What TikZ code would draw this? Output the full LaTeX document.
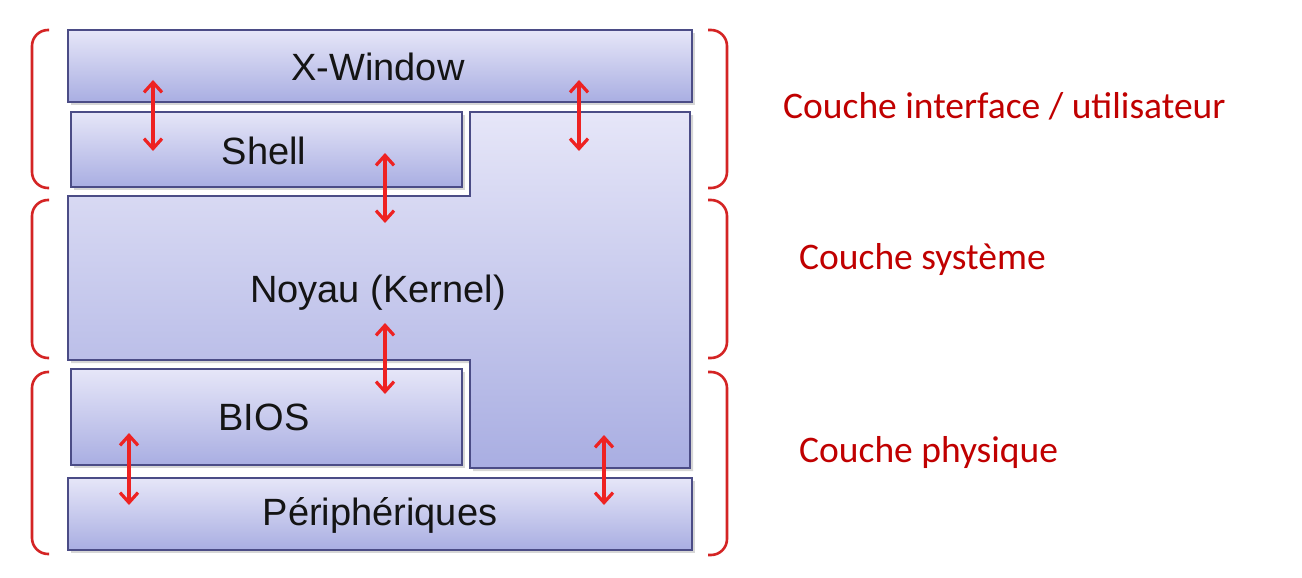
\documentclass[tikz,border=0pt]{standalone}
\usepackage{fontspec}
\setmainfont{Liberation Sans}
\newfontfamily\calib{Carlito}
\usetikzlibrary{arrows.meta}
\definecolor{boxtop}{HTML}{E6E6F8}
\definecolor{boxbot}{HTML}{A9AEE2}
\definecolor{boxline}{HTML}{4B4C86}
\definecolor{brk}{HTML}{D42424}
\definecolor{lbl}{HTML}{C00000}
\definecolor{arr}{HTML}{EE2222}
\tikzset{
  layer/.style={draw=boxline, line width=1.6pt, top color=boxtop, bottom color=boxbot},
  shadow/.style={fill=black!35, opacity=0.45},
  boxtext/.style={font=\fontsize{38}{40}\selectfont, text=black!92, inner sep=0pt},
  couche/.style={font=\calib\fontsize{37.5}{40}\selectfont, text=lbl, anchor=west, inner sep=0pt},
  bracket/.style={draw=brk, line width=2.6pt, rounded corners=16pt},
  link/.style={draw=arr, line width=3.2pt, {Straight Barb[length=10pt,width=18pt,line width=3.2pt]}-{Straight Barb[length=10pt,width=18pt,line width=3.2pt]}}
}
\begin{document}
\begin{tikzpicture}[x=1pt,y=-1pt]
\useasboundingbox (0,0) rectangle (1302,578);
\fill[white] (0,0) rectangle (1302,578);
% shadows
\fill[shadow] (71,33) rectangle (695,105);
\fill[shadow] (74,115) rectangle (465,190);
\fill[shadow] (473,115) -- (693,115) -- (693,471) -- (473,471) -- (473,363) -- (71,363) -- (71,199) -- (473,199) -- cycle;
\fill[shadow] (74,372) rectangle (465,468);
\fill[shadow] (71,481) rectangle (695,553);
% layers
\shade[layer] (68,30) rectangle (692,102);
\node[boxtext] (xwin) at (378,67) {X-Window};
\shade[layer] (71,112) rectangle (462,187);
\node[boxtext] (shell) at (264,151) {Shell};
\shade[layer] (470,112) -- (690,112) -- (690,468) -- (470,468) -- (470,360) -- (68,360) -- (68,196) -- (470,196) -- cycle;
\node[boxtext] (kernel) at (378,293) {Noyau (Kernel)};
\shade[layer] (71,369) rectangle (462,465);
\node[boxtext] (bios) at (264,417) {BIOS};
\shade[layer] (68,478) rectangle (692,550);
\node[boxtext] (periph) at (380,515) {Périphériques};
% arrows
\coordinate (a1) at (153,80); \coordinate (b1) at (153,151);
\coordinate (a2) at (579,80); \coordinate (b2) at (579,151);
\coordinate (a3) at (385,153); \coordinate (b3) at (385,223);
\coordinate (a4) at (385,323); \coordinate (b4) at (385,394);
\coordinate (a5) at (129,433); \coordinate (b5) at (129,505);
\coordinate (a6) at (604,435); \coordinate (b6) at (604,505);
\foreach \i in {1,...,6} \draw[link] (a\i) -- (b\i);
% brackets
\draw[bracket] (49,30) -- (32,30) -- (32,188) -- (49,188);
\draw[bracket] (49,200) -- (32,200) -- (32,358) -- (49,358);
\draw[bracket] (49,372) -- (32,372) -- (32,554) -- (49,554);
\draw[bracket] (708,30) -- (727,30) -- (727,188) -- (708,188);
\draw[bracket] (708,200) -- (727,200) -- (727,358) -- (708,358);
\draw[bracket] (708,372) -- (727,372) -- (727,555) -- (708,555);
% labels
\node[couche] (l1) at (783,106) {Couche interface / utilisateur};
\node[couche] (l2) at (799,260) {Couche système};
\node[couche] (l3) at (799,452) {Couche physique};
\end{tikzpicture}
\end{document}
